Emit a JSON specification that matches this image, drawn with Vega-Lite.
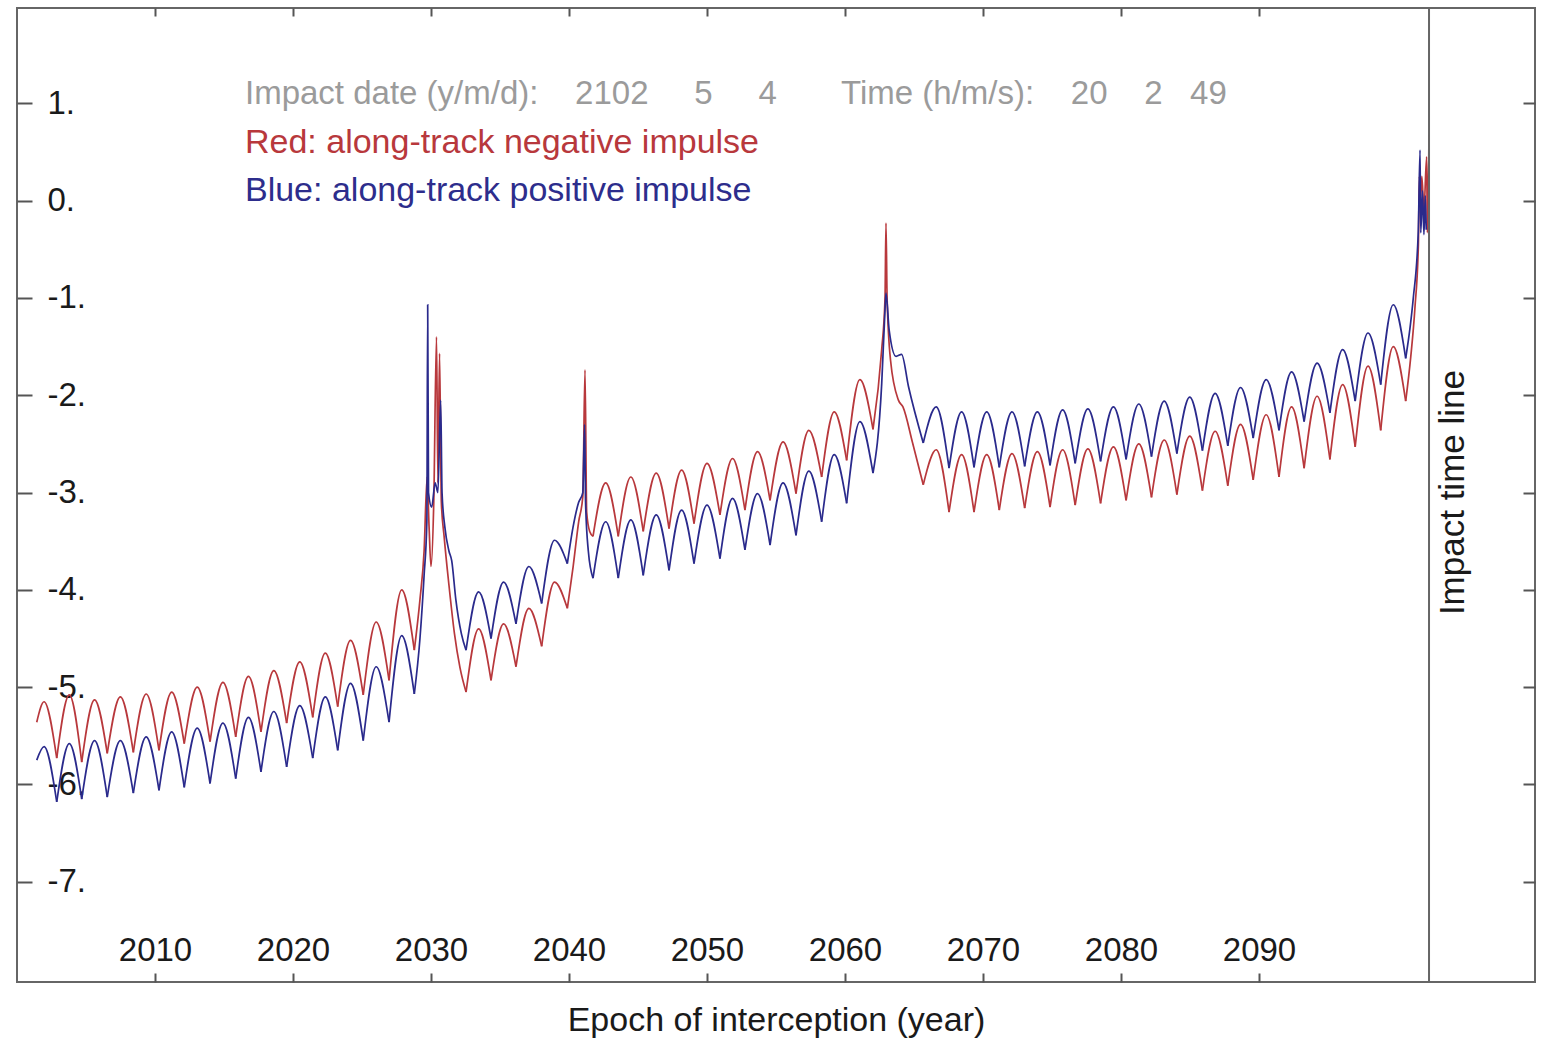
{
"$schema":"https://vega.github.io/schema/vega-lite/v6.json",
"width":1518,"height":974,
"autosize":{"type":"none"},
"padding":{"left":17,"top":8,"right":12,"bottom":57},
"background":"white",
"config":{"view":{"stroke":"#666666","strokeWidth":2},"font":"Liberation Sans",
 "axis":{"grid":false,"domain":false,"tickColor":"#555555","tickWidth":2,"labelColor":"#1a1a1a","titleColor":"#1a1a1a","labelFont":"Liberation Sans","titleFont":"Liberation Sans","titleFontWeight":"normal","labelFlush":false}},
"resolve":{"axis":{"x":"independent","y":"independent"},"scale":{"color":"independent"}},
"datasets":{"curves":[
{"s":"R","a":"s","t":[2001.43,2001.96,2002.88],"v":[-5.36,-5.15,-5.73]},
{"s":"R","a":"0","t":[2002.88,2003.79,2004.69],"v":[-5.73,-5.08,-5.77]},
{"s":"R","a":"1","t":[2004.69,2005.62,2006.54],"v":[-5.77,-5.13,-5.68]},
{"s":"R","a":"2","t":[2006.54,2007.49,2008.43],"v":[-5.68,-5.10,-5.67]},
{"s":"R","a":"3","t":[2008.43,2009.36,2010.29],"v":[-5.67,-5.07,-5.65]},
{"s":"R","a":"4","t":[2010.29,2011.21,2012.12],"v":[-5.65,-5.05,-5.58]},
{"s":"R","a":"5","t":[2012.12,2013.06,2013.99],"v":[-5.58,-5.00,-5.56]},
{"s":"R","a":"6","t":[2013.99,2014.92,2015.85],"v":[-5.56,-4.95,-5.51]},
{"s":"R","a":"7","t":[2015.85,2016.77,2017.68],"v":[-5.51,-4.89,-5.46]},
{"s":"R","a":"8","t":[2017.68,2018.61,2019.54],"v":[-5.46,-4.83,-5.37]},
{"s":"R","a":"9","t":[2019.54,2020.49,2021.43],"v":[-5.37,-4.74,-5.31]},
{"s":"R","a":"10","t":[2021.43,2022.34,2023.24],"v":[-5.31,-4.65,-5.20]},
{"s":"R","a":"11","t":[2023.24,2024.17,2025.09],"v":[-5.20,-4.52,-5.08]},
{"s":"R","a":"12","t":[2025.09,2026.03,2026.96],"v":[-5.08,-4.33,-4.93]},
{"s":"R","a":"13","t":[2026.96,2027.88,2028.79],"v":[-4.93,-4.00,-4.62]},
{"s":"R","a":"A","t":[2028.79,2029.2,2029.5,2029.72,2029.86,2030.0,2030.2,2030.4,2030.5,2030.62,2030.75,2030.95,2031.3,2031.7,2032.1,2032.54],"v":[-4.62,-4.1,-3.6,-2.84,-3.35,-3.76,-3.1,-1.4,-2.9,-1.57,-3.1,-3.45,-3.95,-4.45,-4.8,-5.05]},
{"s":"R","a":"16","t":[2032.54,2033.45,2034.35],"v":[-5.05,-4.40,-4.93]},
{"s":"R","a":"17","t":[2034.35,2035.26,2036.16],"v":[-4.93,-4.35,-4.79]},
{"s":"R","a":"18","t":[2036.16,2037.09,2038.02],"v":[-4.79,-4.19,-4.58]},
{"s":"R","a":"19","t":[2038.02,2038.95,2039.88],"v":[-4.58,-3.92,-4.19]},
{"s":"R","a":"B","t":[2039.88,2040.3,2040.7,2041.0,2041.16,2041.28,2041.5,2041.74],"v":[-4.19,-3.76,-3.3,-3.04,-1.74,-3.2,-3.4,-3.45]},
{"s":"R","a":"21","t":[2041.74,2042.66,2043.57],"v":[-3.45,-2.90,-3.45]},
{"s":"R","a":"22","t":[2043.57,2044.48,2045.38],"v":[-3.45,-2.84,-3.40]},
{"s":"R","a":"23","t":[2045.38,2046.32,2047.25],"v":[-3.40,-2.80,-3.37]},
{"s":"R","a":"24","t":[2047.25,2048.16,2049.06],"v":[-3.37,-2.77,-3.32]},
{"s":"R","a":"25","t":[2049.06,2050.00,2050.94],"v":[-3.32,-2.70,-3.23]},
{"s":"R","a":"26","t":[2050.94,2051.85,2052.75],"v":[-3.23,-2.65,-3.18]},
{"s":"R","a":"27","t":[2052.75,2053.66,2054.57],"v":[-3.18,-2.58,-3.08]},
{"s":"R","a":"28","t":[2054.57,2055.51,2056.45],"v":[-3.08,-2.48,-3.01]},
{"s":"R","a":"29","t":[2056.45,2057.38,2058.31],"v":[-3.01,-2.36,-2.84]},
{"s":"R","a":"30","t":[2058.31,2059.22,2060.12],"v":[-2.84,-2.17,-2.67]},
{"s":"R","a":"31","t":[2060.12,2061.08,2062.03],"v":[-2.67,-1.84,-2.35]},
{"s":"R","a":"C","t":[2062.03,2062.66,2062.9,2062.97,2063.05,2063.3,2063.87,2064.2,2064.9,2065.67],"v":[-2.35,-1.53,-1.0,-0.23,-1.0,-1.64,-2.05,-2.12,-2.49,-2.92]},
{"s":"R","a":"34","t":[2065.67,2066.61,2067.54],"v":[-2.92,-2.56,-3.20]},
{"s":"R","a":"35","t":[2067.54,2068.45,2069.35],"v":[-3.20,-2.61,-3.20]},
{"s":"R","a":"36","t":[2069.35,2070.27,2071.18],"v":[-3.20,-2.61,-3.18]},
{"s":"R","a":"37","t":[2071.18,2072.10,2073.02],"v":[-3.18,-2.60,-3.16]},
{"s":"R","a":"38","t":[2073.02,2073.94,2074.86],"v":[-3.16,-2.58,-3.15]},
{"s":"R","a":"39","t":[2074.86,2075.77,2076.68],"v":[-3.15,-2.56,-3.13]},
{"s":"R","a":"40","t":[2076.68,2077.60,2078.52],"v":[-3.13,-2.55,-3.11]},
{"s":"R","a":"41","t":[2078.52,2079.45,2080.37],"v":[-3.11,-2.53,-3.08]},
{"s":"R","a":"42","t":[2080.37,2081.29,2082.21],"v":[-3.08,-2.50,-3.05]},
{"s":"R","a":"43","t":[2082.21,2083.13,2084.05],"v":[-3.05,-2.46,-3.02]},
{"s":"R","a":"44","t":[2084.05,2084.98,2085.90],"v":[-3.02,-2.42,-2.98]},
{"s":"R","a":"45","t":[2085.90,2086.82,2087.74],"v":[-2.98,-2.37,-2.93]},
{"s":"R","a":"46","t":[2087.74,2088.66,2089.58],"v":[-2.93,-2.30,-2.87]},
{"s":"R","a":"47","t":[2089.58,2090.52,2091.45],"v":[-2.87,-2.20,-2.84]},
{"s":"R","a":"48","t":[2091.45,2092.36,2093.27],"v":[-2.84,-2.12,-2.75]},
{"s":"R","a":"49","t":[2093.27,2094.21,2095.14],"v":[-2.75,-2.01,-2.66]},
{"s":"R","a":"50","t":[2095.14,2096.06,2096.97],"v":[-2.66,-1.89,-2.53]},
{"s":"R","a":"51","t":[2096.97,2097.90,2098.82],"v":[-2.53,-1.70,-2.36]},
{"s":"R","a":"52","t":[2098.82,2099.73,2100.63],"v":[-2.36,-1.50,-2.06]},
{"s":"R","a":"E","t":[2100.63,2101.0,2101.3,2101.55,2101.62,2101.7,2101.8,2101.95,2102.15,2102.2,2102.32],"v":[-2.06,-1.6,-1.1,-0.45,0.25,0.0,0.25,-0.1,0.45,-0.33,0.68]},
{"s":"B","a":"s","t":[2001.43,2001.96,2002.88],"v":[-5.75,-5.61,-6.18]},
{"s":"B","a":"0","t":[2002.88,2003.79,2004.69],"v":[-6.18,-5.58,-6.15]},
{"s":"B","a":"1","t":[2004.69,2005.62,2006.54],"v":[-6.15,-5.55,-6.13]},
{"s":"B","a":"2","t":[2006.54,2007.49,2008.43],"v":[-6.13,-5.55,-6.09]},
{"s":"B","a":"3","t":[2008.43,2009.36,2010.29],"v":[-6.09,-5.51,-6.06]},
{"s":"B","a":"4","t":[2010.29,2011.21,2012.12],"v":[-6.06,-5.46,-6.03]},
{"s":"B","a":"5","t":[2012.12,2013.06,2013.99],"v":[-6.03,-5.42,-5.99]},
{"s":"B","a":"6","t":[2013.99,2014.92,2015.85],"v":[-5.99,-5.37,-5.94]},
{"s":"B","a":"7","t":[2015.85,2016.77,2017.68],"v":[-5.94,-5.31,-5.87]},
{"s":"B","a":"8","t":[2017.68,2018.61,2019.54],"v":[-5.87,-5.25,-5.82]},
{"s":"B","a":"9","t":[2019.54,2020.49,2021.43],"v":[-5.82,-5.19,-5.73]},
{"s":"B","a":"10","t":[2021.43,2022.34,2023.24],"v":[-5.73,-5.10,-5.65]},
{"s":"B","a":"11","t":[2023.24,2024.17,2025.09],"v":[-5.65,-4.96,-5.55]},
{"s":"B","a":"12","t":[2025.09,2026.03,2026.96],"v":[-5.55,-4.79,-5.36]},
{"s":"B","a":"13","t":[2026.96,2027.88,2028.79],"v":[-5.36,-4.47,-5.07]},
{"s":"B","a":"A","t":[2028.79,2029.2,2029.5,2029.7,2029.76,2029.82,2030.05,2030.3,2030.5,2030.7,2030.8,2031.0,2031.3,2031.5,2031.8,2032.2,2032.54],"v":[-5.07,-4.5,-3.85,-3.3,-1.07,-3.0,-3.15,-2.9,-3.0,-2.05,-3.0,-3.35,-3.6,-3.7,-4.1,-4.45,-4.62]},
{"s":"B","a":"16","t":[2032.54,2033.45,2034.35],"v":[-4.62,-4.02,-4.50]},
{"s":"B","a":"17","t":[2034.35,2035.26,2036.16],"v":[-4.50,-3.92,-4.35]},
{"s":"B","a":"18","t":[2036.16,2037.09,2038.02],"v":[-4.35,-3.76,-4.14]},
{"s":"B","a":"19","t":[2038.02,2038.95,2039.88],"v":[-4.14,-3.49,-3.73]},
{"s":"B","a":"B","t":[2039.88,2040.3,2040.7,2041.0,2041.13,2041.2,2041.4,2041.74],"v":[-3.73,-3.35,-3.1,-3.0,-2.3,-3.1,-3.6,-3.88]},
{"s":"B","a":"21","t":[2041.74,2042.66,2043.57],"v":[-3.88,-3.30,-3.88]},
{"s":"B","a":"22","t":[2043.57,2044.48,2045.38],"v":[-3.88,-3.28,-3.85]},
{"s":"B","a":"23","t":[2045.38,2046.32,2047.25],"v":[-3.85,-3.23,-3.80]},
{"s":"B","a":"24","t":[2047.25,2048.16,2049.06],"v":[-3.80,-3.18,-3.73]},
{"s":"B","a":"25","t":[2049.06,2050.00,2050.94],"v":[-3.73,-3.13,-3.68]},
{"s":"B","a":"26","t":[2050.94,2051.85,2052.75],"v":[-3.68,-3.06,-3.59]},
{"s":"B","a":"27","t":[2052.75,2053.66,2054.57],"v":[-3.59,-3.01,-3.54]},
{"s":"B","a":"28","t":[2054.57,2055.51,2056.45],"v":[-3.54,-2.90,-3.44]},
{"s":"B","a":"29","t":[2056.45,2057.38,2058.31],"v":[-3.44,-2.78,-3.30]},
{"s":"B","a":"30","t":[2058.31,2059.22,2060.12],"v":[-3.30,-2.61,-3.11]},
{"s":"B","a":"31","t":[2060.12,2061.08,2062.03],"v":[-3.11,-2.27,-2.80]},
{"s":"B","a":"C","t":[2062.03,2062.66,2062.9,2062.97,2063.2,2063.7,2064.1,2064.6,2065.67],"v":[-2.80,-1.88,-1.12,-0.95,-1.33,-1.60,-1.58,-1.91,-2.49]},
{"s":"B","a":"34","t":[2065.67,2066.61,2067.54],"v":[-2.49,-2.12,-2.75]},
{"s":"B","a":"35","t":[2067.54,2068.45,2069.35],"v":[-2.75,-2.17,-2.74]},
{"s":"B","a":"36","t":[2069.35,2070.27,2071.18],"v":[-2.74,-2.17,-2.74]},
{"s":"B","a":"37","t":[2071.18,2072.10,2073.02],"v":[-2.74,-2.17,-2.73]},
{"s":"B","a":"38","t":[2073.02,2073.94,2074.86],"v":[-2.73,-2.17,-2.72]},
{"s":"B","a":"39","t":[2074.86,2075.77,2076.68],"v":[-2.72,-2.15,-2.70]},
{"s":"B","a":"40","t":[2076.68,2077.60,2078.52],"v":[-2.70,-2.14,-2.68]},
{"s":"B","a":"41","t":[2078.52,2079.45,2080.37],"v":[-2.68,-2.12,-2.66]},
{"s":"B","a":"42","t":[2080.37,2081.29,2082.21],"v":[-2.66,-2.09,-2.63]},
{"s":"B","a":"43","t":[2082.21,2083.13,2084.05],"v":[-2.63,-2.06,-2.60]},
{"s":"B","a":"44","t":[2084.05,2084.98,2085.90],"v":[-2.60,-2.02,-2.57]},
{"s":"B","a":"45","t":[2085.90,2086.82,2087.74],"v":[-2.57,-1.98,-2.52]},
{"s":"B","a":"46","t":[2087.74,2088.66,2089.58],"v":[-2.52,-1.92,-2.44]},
{"s":"B","a":"47","t":[2089.58,2090.52,2091.45],"v":[-2.44,-1.84,-2.36]},
{"s":"B","a":"48","t":[2091.45,2092.36,2093.27],"v":[-2.36,-1.76,-2.27]},
{"s":"B","a":"49","t":[2093.27,2094.21,2095.14],"v":[-2.27,-1.67,-2.18]},
{"s":"B","a":"50","t":[2095.14,2096.06,2096.97],"v":[-2.18,-1.53,-2.06]},
{"s":"B","a":"51","t":[2096.97,2097.90,2098.82],"v":[-2.06,-1.36,-1.89]},
{"s":"B","a":"52","t":[2098.82,2099.73,2100.63],"v":[-1.89,-1.07,-1.62]},
{"s":"B","a":"E","t":[2100.63,2100.95,2101.18,2101.54,2101.67,2101.72,2101.85,2101.95,2102.05,2102.12],"v":[-1.62,-1.3,-1.0,-0.33,0.52,-0.33,0.1,-0.35,0.05,-0.3]}
]},
"layer":[
{"data":{"name":"curves"},
 "transform":[{"flatten":["t","v"]}],
 "mark":{"type":"line","interpolate":"monotone","strokeWidth":1.7},
 "encoding":{
  "x":{"field":"t","type":"quantitative","scale":{"domain":[2000,2110],"nice":false,"zero":false},
   "axis":{"orient":"bottom","values":[2010,2020,2030,2040,2050,2060,2070,2080,2090],"format":"d","tickSize":-9,"labelFontSize":33,"labelBaseline":"middle","labelPadding":-23,"title":"Epoch of interception (year)","titleFontSize":34,"titleBaseline":"alphabetic","titleY":48}},
  "y":{"field":"v","type":"quantitative","scale":{"domain":[-8.03,1.98],"nice":false,"zero":false},
   "axis":{"orient":"left","values":[1,0,-1,-2,-3,-4,-5,-6,-7],"labelExpr":"datum.value + '.'","tickSize":-15,"labelFontSize":33,"labelAlign":"left","labelPadding":-15,"title":null}},
  "color":{"field":"s","type":"nominal","scale":{"domain":["R","B"],"range":["#b8383c","#2a2a8c"]},"legend":null},
  "detail":{"field":"a","type":"nominal"}
 }},
{"data":{"values":[{"t":2102.32}]},
 "mark":{"type":"rule","color":"#666666","strokeWidth":2},
 "encoding":{"x":{"field":"t","type":"quantitative","scale":{"domain":[2000,2110],"nice":false,"zero":false},
   "axis":{"orient":"top","values":[2010,2020,2030,2040,2050,2060,2070,2080,2090],"labels":false,"tickSize":-8,"title":null}}}},
{"data":{"values":[
  {"t":2016.52,"v":0.99,"txt":"Impact date (y/m/d):\u00a0\u00a0\u00a0\u00a02102\u00a0\u00a0\u00a0\u00a0\u00a05\u00a0\u00a0\u00a0\u00a0\u00a04\u00a0\u00a0\u00a0\u00a0\u00a0\u00a0\u00a0Time (h/m/s):\u00a0\u00a0\u00a0\u00a020\u00a0\u00a0\u00a0\u00a02\u00a0\u00a0\u00a049"}]},
 "mark":{"type":"text","align":"left","baseline":"alphabetic","fontSize":33,"font":"Liberation Sans","color":"#9b9b9b"},
 "encoding":{
  "x":{"field":"t","type":"quantitative","scale":{"domain":[2000,2110],"nice":false,"zero":false},"axis":null},
  "y":{"field":"v","type":"quantitative","scale":{"domain":[-8.03,1.98],"nice":false,"zero":false},
   "axis":{"orient":"right","values":[1,0,-1,-2,-3,-4,-5,-6,-7],"labels":false,"tickSize":-12,"title":null}},
  "text":{"field":"txt"}}},
{"data":{"values":[
  {"t":2016.52,"v":0.49,"k":"neg","txt":"Red: along-track negative impulse"},
  {"t":2016.52,"v":0.0,"k":"pos","txt":"Blue: along-track positive impulse"}]},
 "mark":{"type":"text","align":"left","baseline":"alphabetic","fontSize":34,"font":"Liberation Sans"},
 "encoding":{
  "x":{"field":"t","type":"quantitative","scale":{"domain":[2000,2110],"nice":false,"zero":false},"axis":null},
  "y":{"field":"v","type":"quantitative","scale":{"domain":[-8.03,1.98],"nice":false,"zero":false},"axis":null},
  "text":{"field":"txt"},
  "color":{"field":"k","type":"nominal","scale":{"domain":["neg","pos"],"range":["#b8383c","#2d2d8c"]},"legend":null}}},
{"data":{"values":[{"t":2104.06,"v":-3.0,"txt":"Impact time line"}]},
 "mark":{"type":"text","angle":270,"align":"center","baseline":"middle","fontSize":35,"font":"Liberation Sans","color":"#1a1a1a"},
 "encoding":{
  "x":{"field":"t","type":"quantitative","scale":{"domain":[2000,2110],"nice":false,"zero":false},"axis":null},
  "y":{"field":"v","type":"quantitative","scale":{"domain":[-8.03,1.98],"nice":false,"zero":false},"axis":null},
  "text":{"field":"txt"}}}
]
}
